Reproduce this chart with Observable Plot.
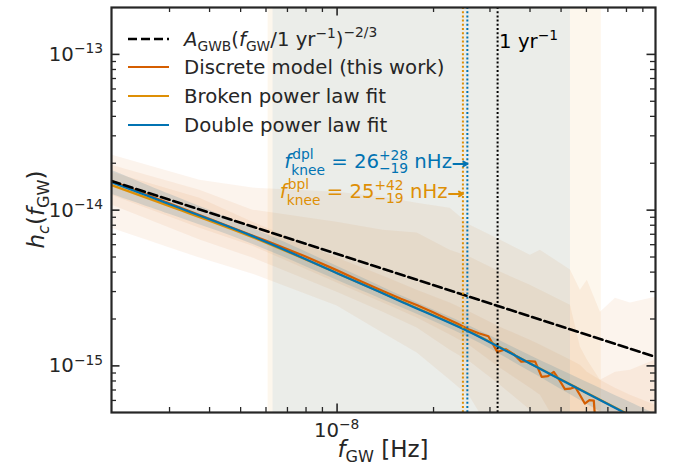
<!DOCTYPE html>
<html><head><meta charset="utf-8">
<script src="https://cdn.jsdelivr.net/npm/d3@7"></script>
<script src="https://cdn.jsdelivr.net/npm/@observablehq/plot@0.6"></script>
<style>
body{margin:0;background:#fff;}
#chart svg{display:block;}
</style></head><body><div id="chart"></div>
<script>
// ---------------- data ----------------
const xDomain = [1.977e-9, 9.856e-8];
const yDomain = [5.02e-16, 2.0e-13];

// discrete model (median) at frequencies k/T
const discreteF = [1.977e-9,3.954e-9,5.931e-9,7.908e-9,9.885e-9,1.1862e-8,1.3839e-8,1.5816e-8,1.7793e-8,1.977e-8,2.1747e-8,2.3724e-8,2.5701e-8,2.7678e-8,2.9655e-8,3.1632e-8,3.3609e-8,3.5586e-8,3.7563e-8,3.954e-8,4.1517e-8,4.3494e-8,4.5471e-8,4.7448e-8,4.9425e-8,5.1402e-8,5.3379e-8,5.5356e-8,5.7333e-8,5.931e-8,6.1287e-8,6.3264e-8,6.5241e-8];
const discreteH = [1.536e-14,8.88e-15,6.42e-15,5.07e-15,4.15e-15,3.50e-15,3.04e-15,2.70e-15,2.45e-15,2.23e-15,2.03e-15,1.87e-15,1.72e-15,1.62e-15,1.55e-15,1.23e-15,1.28e-15,1.19e-15,1.064e-15,1.072e-15,1.064e-15,8.50e-16,8.59e-16,9.15e-16,8.09e-16,7.09e-16,7.14e-16,7.33e-16,6.48e-16,5.73e-16,6.02e-16,5.98e-16,2.5e-16];

// discrete model credible bands
const bandF = [1.977e-9,3.73e-9,5.46e-9,1e-8,1.392e-8,1.778e-8,2.254e-8,2.603e-8,3.23e-8,4.01e-8,4.31e-8,5.35e-8,5.745e-8,6.04e-8,6.635e-8,7.39e-8,8.23e-8,9.856e-8];
const bandAHi = [2.256e-14,1.558e-14,1.385e-14,1.305e-14,1.212e-14,1.109e-14,1.030e-14,8.01e-15,6.42e-15,5.14e-15,5.53e-15,4.12e-15,3.06e-15,3.55e-15,2.21e-15,2.72e-15,2.53e-15,2.76e-15];
const bandALo = [7.66e-15,4.92e-15,3.88e-15,2.42e-15,1.62e-15,1.21e-15,8.09e-16,6.30e-16,3e-16,3e-16,3e-16,3e-16,3e-16,3e-16,3e-16,3e-16,3e-16,3e-16];
const bandBHi = [1.945e-14,1.344e-14,1.0e-14,8.37e-15,7.44e-15,7.12e-15,5.53e-15,4.99e-15,4.00e-15,3.30e-15,3.06e-15,2.45e-15,1.32e-15,1.09e-15,8.09e-16,9.11e-16,9.38e-16,1.09e-15];
const bandBLo = [1.077e-14,6.42e-15,4.92e-15,2.97e-15,2.21e-15,1.75e-15,1.26e-15,1.06e-15,7.52e-16,5.19e-16,3e-16,3e-16,3e-16,3e-16,3e-16,3e-16,3e-16,3e-16];
const bandCHi = [1.754e-14,1.194e-14,8.37e-15,4.92e-15,3.77e-15,3.06e-15,2.53e-15,2.21e-15,1.77e-15,1.46e-15,1.36e-15,1.09e-15,1.01e-15,9.11e-16,8.09e-16,7.19e-16,6.48e-16,5.59e-16];
const bandCLo = [1.248e-14,7.66e-15,5.87e-15,3.40e-15,2.53e-15,2.03e-15,1.58e-15,1.34e-15,9.66e-16,7.19e-16,6.48e-16,3e-16,3e-16,3e-16,3e-16,3e-16,3e-16,3e-16];

// power-law fits
const fitF   = [1.977e-9,3e-9,5.35e-9,1e-8,1.6e-8,2.6e-8,4e-8,6e-8,7.83e-8,9.856e-8];
const dplH   = [1.512e-14,1.091e-14,6.91e-15,3.94e-15,2.565e-15,1.646e-15,1.036e-15,6.70e-16,5.04e-16,3.93e-16];
const dplHi  = [1.805e-14,1.264e-14,7.78e-15,4.37e-15,2.80e-15,1.80e-15,1.167e-15,7.89e-16,6.11e-16,4.90e-16];
const dplLo  = [1.266e-14,9.41e-15,6.14e-15,3.55e-15,2.35e-15,1.506e-15,9.20e-16,5.69e-16,4.16e-16,3.15e-16];
const bplH   = [1.447e-14,1.061e-14,6.81e-15,3.94e-15,2.58e-15,1.656e-15,1.04e-15,6.73e-16,5.08e-16,3.99e-16];

// A_GWB (f/1yr)^(-2/3) reference line end points
const gwbF = [1.977e-9, 9.856e-8];
const gwbH = [1.538e-14, 1.142e-15];

// knee frequencies and their intervals
const kneeNames = ["bpl", "dpl"];
const kneeF   = [2.47e-8, 2.55e-8];
const kneeLo  = [6.09e-9, 6.31e-9];
const kneeHi  = [6.68e-8, 5.35e-8];
const kneeMed = ["25", "26"];
const kneeUp  = ["+42", "+28"];
const kneeDn  = ["\u221219", "\u221219"];
const kneeLabelH = [1.27e-14, 1.98e-14];
const yrF = 3.169e-8;

// ticks
const xMajor = [1e-8];
const xMinor = [3e-9,4e-9,5e-9,6e-9,7e-9,8e-9,9e-9,2e-8,3e-8,4e-8,5e-8,6e-8,7e-8,8e-8,9e-8];
const yMajor = [1e-15,1e-14,1e-13];
const yMinor = [6e-16,7e-16,8e-16,9e-16,2e-15,3e-15,4e-15,5e-15,6e-15,7e-15,8e-15,9e-15,2e-14,3e-14,4e-14,5e-14,6e-14,7e-14,8e-14,9e-14];
const xTickExp = ["\u22128"];
const yTickExp = ["\u221215","\u221214","\u221213"];

// ---------------- style ----------------
const W = 675, H = 467, mL = 111, mR = 20, mT = 7, mB = 55;
const iW = W - mL - mR, iH = H - mT - mB;
const FONT = "DejaVu Sans, sans-serif";
const FS = 19.7, SS = 13.8, LS = 23, LSS = 16.1;
const ink = "#262626";
const DISC = "#d55e00", BPL = "#de8f05", DPL = "#0173b2";

const bandRows = bandF.map((f, i) => ({f, aLo: bandALo[i], aHi: bandAHi[i], bLo: bandBLo[i], bHi: bandBHi[i], cLo: bandCLo[i], cHi: bandCHi[i]}));
const fitRows = fitF.map((f, i) => ({f, dpl: dplH[i], lo: dplLo[i], hi: dplHi[i], bpl: bplH[i]}));
const discRows = discreteF.map((f, i) => ({f, h: discreteH[i]}));
const gwbRows = gwbF.map((f, i) => ({f, h: gwbH[i]}));
const kneeRows = kneeNames.map((n, i) => ({n, f: kneeF[i], lo: kneeLo[i], hi: kneeHi[i], hy: kneeLabelH[i], color: n === "dpl" ? DPL : BPL}));

const majorLen = 8.5, minorLen = 5;
const tickMarks = (vals, len, w) => [
  Plot.ruleX(vals, {x: d => d, insetTop: iH - len, stroke: ink, strokeWidth: w}),
  Plot.ruleX(vals, {x: d => d, insetBottom: iH - len, stroke: ink, strokeWidth: w})
];
const tickMarksY = (vals, len, w) => [
  Plot.ruleY(vals, {y: d => d, insetRight: iW - len, stroke: ink, strokeWidth: w}),
  Plot.ruleY(vals, {y: d => d, insetLeft: iW - len, stroke: ink, strokeWidth: w})
];

const chart = Plot.plot({
  width: W, height: H, marginLeft: mL, marginRight: mR, marginTop: mT, marginBottom: mB,
  x: {type: "log", domain: xDomain, axis: null},
  y: {type: "log", domain: yDomain, axis: null},
  style: {fontFamily: FONT, background: "white", overflow: "visible"},
  marks: [
    Plot.areaY(bandRows, {x: "f", y1: "aLo", y2: "aHi", fill: DISC, fillOpacity: 0.07, clip: true}),
    Plot.areaY(bandRows, {x: "f", y1: "bLo", y2: "bHi", fill: DISC, fillOpacity: 0.07, clip: true}),
    Plot.areaY(bandRows, {x: "f", y1: "cLo", y2: "cHi", fill: DISC, fillOpacity: 0.07, clip: true}),
    Plot.rect(kneeRows.filter(d => d.n === "bpl"), {x1: "lo", x2: "hi", fill: BPL, fillOpacity: 0.07}),
    Plot.rect(kneeRows.filter(d => d.n === "dpl"), {x1: "lo", x2: "hi", fill: DPL, fillOpacity: 0.07}),
    Plot.areaY(fitRows, {x: "f", y1: "lo", y2: "hi", fill: "#5d8ea6", fillOpacity: 0.22, curve: "catmull-rom", clip: true}),
    Plot.line(discRows, {x: "f", y: "h", stroke: DISC, strokeWidth: 2.2, clip: true}),
    Plot.line(fitRows, {x: "f", y: "bpl", stroke: BPL, strokeWidth: 2.2, curve: "catmull-rom", clip: true}),
    Plot.line(fitRows, {x: "f", y: "dpl", stroke: DPL, strokeWidth: 2.2, curve: "catmull-rom", clip: true}),
    Plot.line(gwbRows, {x: "f", y: "h", stroke: "black", strokeWidth: 2.6, strokeDasharray: "9,4", clip: true}),
    Plot.ruleX(kneeRows, {x: "f", stroke: "color", strokeWidth: 2, strokeDasharray: "2,2.2"}),
    Plot.ruleX([yrF], {x: d => d, stroke: "black", strokeWidth: 2, strokeDasharray: "2,2.2"}),
    Plot.arrow(kneeRows, {x1: d => d.f * 0.905, x2: d => d.f * 1.0, y1: "hy", y2: "hy", stroke: "color", strokeWidth: 2, headLength: 6}),
    ...tickMarks(xMajor, majorLen, 1.6),
    ...tickMarks(xMinor, minorLen, 1.3),
    ...tickMarksY(yMajor, majorLen, 1.6),
    ...tickMarksY(yMinor, minorLen, 1.3),
    Plot.frame({stroke: ink, strokeWidth: 2.2})
  ]
});
document.getElementById("chart").appendChild(chart);

// --------------- rich text overlay ---------------
const sx = chart.scale("x"), sy = chart.scale("y");
const X = sx.apply ? v => sx.apply(v) : d3.scaleLog(sx.domain, sx.range);
const Y = sy.apply ? v => sy.apply(v) : d3.scaleLog(sy.domain, sy.range);
const svg = d3.select(chart);

function piece(g, p, cx) {
  const t = g.append("text")
    .attr("x", cx + (p.dx || 0)).attr("y", p.dy || 0)
    .attr("font-size", p.s || FS)
    .attr("font-style", p.it ? "italic" : null)
    .attr("text-anchor", "start")
    .style("white-space", "pre")
    .text(p.t);
  return t.node().getComputedTextLength() + (p.dx || 0);
}
function rich(parts, o) {
  const g = svg.append("g").attr("fill", o.fill || ink).attr("text-anchor", "start").style("font-family", FONT);
  let cx = 0;
  for (const p of parts) {
    if (p.stack) {
      let w = 0;
      for (const q of p.stack) w = Math.max(w, piece(g, q, cx));
      cx += w;
    } else cx += piece(g, p, cx);
  }
  const shift = o.anchor === "end" ? -cx : o.anchor === "middle" ? -cx / 2 : 0;
  g.attr("transform", `translate(${o.x},${o.y})${o.rotate ? ` rotate(${o.rotate})` : ""} translate(${shift},0)`);
  return g;
}

// tick labels
xMajor.forEach((v, i) => rich([{t: "10"}, {t: xTickExp[i], s: SS, dy: -7.8}], {x: X(v), y: 437, anchor: "middle"}));
yMajor.forEach((v, i) => rich([{t: "10"}, {t: yTickExp[i], s: SS, dy: -7.8}], {x: mL - 8, y: Y(v) + 7, anchor: "end"}));

// axis labels
rich([{t: "f", it: true, s: LS}, {t: "GW", s: LSS, dy: 4.5}, {t: " [Hz]", s: LS}], {x: mL + iW / 2, y: 457, anchor: "middle"});
rich([{t: "h", it: true, s: LS}, {t: "c", s: LSS, dy: 5, it: true}, {t: "(", s: LS}, {t: "f", it: true, s: LS}, {t: "GW", s: LSS, dy: 5}, {t: ")", s: LS}], {x: 44, y: mT + iH / 2, anchor: "middle", rotate: -90});

// 1/yr label
rich([{t: "1 yr"}, {t: "\u22121", s: SS, dy: -8}], {x: X(yrF) + 2, y: 48, fill: "black"});

// knee annotations
kneeRows.forEach((d, i) => {
  rich([
    {t: "f", it: true},
    {stack: [{t: d.n, s: SS, dy: -8.5, dx: 1}, {t: "knee", s: SS, dy: 7.5}]},
    {t: " = " + kneeMed[i]},
    {stack: [{t: kneeUp[i], s: SS, dy: -8}, {t: kneeDn[i], s: SS, dy: 5.5}]},
    {t: " nHz"}
  ], {x: X(d.f * 0.905) - 1, y: Y(d.hy) + 4.5, anchor: "end", fill: d.color});
});

// legend
const legX1 = 128, legX2 = 169, legT = 184;
const legRows = [
  {y: 39, stroke: "black", dash: "9,4", parts: [{t: "A", it: true}, {t: "GWB", s: SS, dy: 4.5}, {t: "("}, {t: "f", it: true}, {t: "GW", s: SS, dy: 4.5}, {t: "/1 yr"}, {t: "\u22121", s: SS, dy: -8}, {t: ")"}, {t: "\u22122/3", s: SS, dy: -9}]},
  {y: 67, stroke: DISC, parts: [{t: "Discrete model (this work)"}]},
  {y: 96, stroke: BPL, parts: [{t: "Broken power law fit"}]},
  {y: 125, stroke: DPL, parts: [{t: "Double power law fit"}]}
];
legRows.forEach(r => {
  svg.append("line").attr("x1", legX1).attr("x2", legX2).attr("y1", r.y).attr("y2", r.y)
    .attr("stroke", r.stroke).attr("stroke-width", r.dash ? 2.6 : 2.2).attr("stroke-dasharray", r.dash || null);
  rich(r.parts, {x: legT, y: r.y + 7.3});
});
</script></body></html>
